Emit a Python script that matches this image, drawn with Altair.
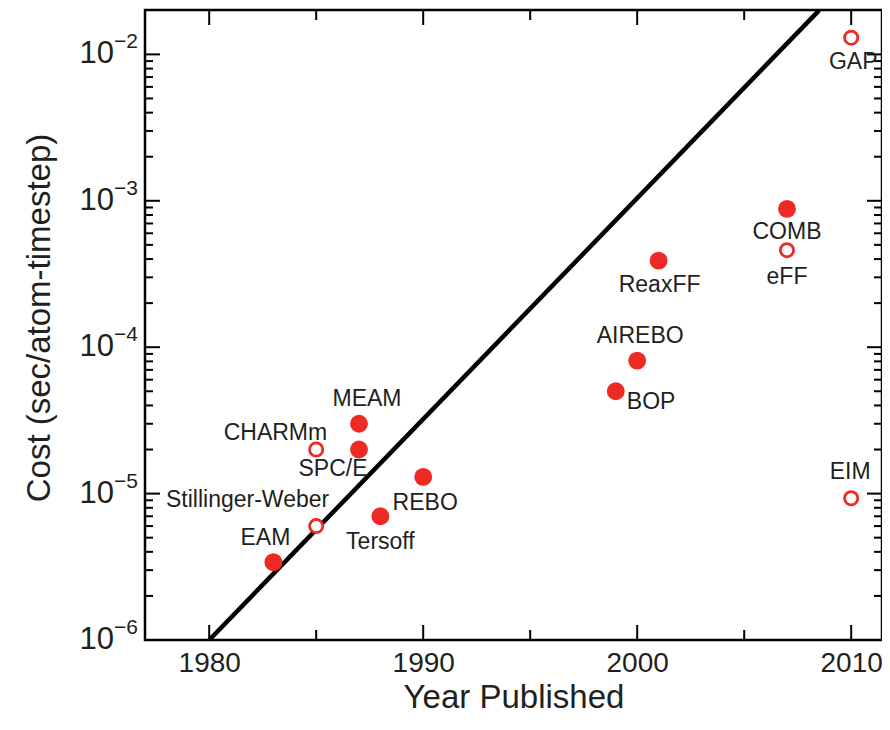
import altair as alt
import pandas as pd

# ---- data ----
names = ["EAM", "Stillinger-Weber", "CHARMm", "SPC/E", "MEAM", "Tersoff", "REBO",
         "BOP", "AIREBO", "ReaxFF", "COMB", "eFF", "GAP", "EIM"]
years = [1983, 1985, 1985, 1987, 1987, 1988, 1990, 1999, 2000, 2001, 2007, 2007, 2010, 2010]
costs = [3.4e-6, 6.0e-6, 2.0e-5, 2.0e-5, 3.0e-5, 7.0e-6, 1.3e-5, 5.0e-5, 8.1e-5, 3.9e-4,
         8.8e-4, 4.6e-4, 1.3e-2, 9.3e-6]
filled = [True, False, False, True, True, True, True, True, True, True, True, False, False, False]

trend_years = [1980, 2008.5]
trend_costs = [1e-6, 2e-2]

x_major = [1980, 1990, 2000, 2010]
x_minor = [1985, 1995, 2005]
y_major = [1e-6, 1e-5, 1e-4, 1e-3, 1e-2]
y_exp = ["\u22126", "\u22125", "\u22124", "\u22123", "\u22122"]
y_minor = [m * d for d in [1e-6, 1e-5, 1e-4, 1e-3] for m in range(2, 10)]

# ---- styles ----
W, H = 737, 630
FONT = "Liberation Sans"
TXT = "#231f20"
RED = "#ee2a24"
label_style = {
    "EAM": (-8, -24, "center"),
    "Stillinger-Weber": (13, -26, "right"),
    "CHARMm": (11, -17, "right"),
    "SPC/E": (-26, 19, "center"),
    "MEAM": (8, -25, "center"),
    "Tersoff": (0, 26, "center"),
    "REBO": (2, 26, "center"),
    "BOP": (11, 11, "left"),
    "AIREBO": (3, -25, "center"),
    "ReaxFF": (1, 24, "center"),
    "COMB": (0, 23, "center"),
    "eFF": (0, 27, "center"),
    "GAP": (2, 24, "center"),
    "EIM": (-1, -26, "center"),
}

pts = pd.DataFrame({"name": names, "year": years, "cost": costs, "filled": filled})
trend = pd.DataFrame({"year": trend_years, "cost": trend_costs})
xmaj = pd.DataFrame({"year": x_major})
xmin = pd.DataFrame({"year": x_minor})
ymaj = pd.DataFrame({"cost": y_major, "base": ["10"] * len(y_major), "exp": y_exp})
ymin = pd.DataFrame({"cost": y_minor})

xscale = alt.Scale(domain=[1977.0, 2011.44], nice=False, zero=False)
yscale = alt.Scale(type="log", domain=[1e-6, 2.01e-2], nice=False)

X = alt.X("year:Q", scale=xscale,
          axis=alt.Axis(values=x_major, format="d", ticks=False, domain=False, grid=False,
                        labelFontSize=28, labelPadding=9, labelColor=TXT, labelFont=FONT,
                        title="Year Published", titleFontSize=33, titleFont=FONT,
                        titleFontWeight="normal", titleColor=TXT, titlePadding=4))
Y = alt.Y("cost:Q", scale=yscale, axis=None)

layers = []

# trend line
layers.append(alt.Chart(trend).mark_line(color="black", strokeWidth=4.5, clip=True)
              .encode(x=X, y=Y))

# ticks (inward) on all four sides
tw = 2
layers.append(alt.Chart(xmaj).mark_rule(color="black", strokeWidth=tw)
              .encode(x=X, y=alt.value(H), y2=alt.value(H - 15)))
layers.append(alt.Chart(xmin).mark_rule(color="black", strokeWidth=tw)
              .encode(x=X, y=alt.value(H), y2=alt.value(H - 10)))
layers.append(alt.Chart(xmaj).mark_rule(color="black", strokeWidth=tw)
              .encode(x=X, y=alt.value(0), y2=alt.value(15)))
layers.append(alt.Chart(xmin).mark_rule(color="black", strokeWidth=tw)
              .encode(x=X, y=alt.value(0), y2=alt.value(10)))
layers.append(alt.Chart(ymaj).mark_rule(color="black", strokeWidth=tw)
              .encode(y=Y, x=alt.value(0), x2=alt.value(15)))
layers.append(alt.Chart(ymin).mark_rule(color="black", strokeWidth=tw)
              .encode(y=Y, x=alt.value(0), x2=alt.value(8)))
layers.append(alt.Chart(ymaj).mark_rule(color="black", strokeWidth=tw)
              .encode(y=Y, x=alt.value(W), x2=alt.value(W - 15)))
layers.append(alt.Chart(ymin).mark_rule(color="black", strokeWidth=tw)
              .encode(y=Y, x=alt.value(W), x2=alt.value(W - 8)))

# y tick labels 10^n
layers.append(alt.Chart(ymaj).mark_text(align="right", baseline="middle", fontSize=31,
                                        font=FONT, color=TXT)
              .encode(y=Y, x=alt.value(-31), text="base:N"))
layers.append(alt.Chart(ymaj).mark_text(align="left", baseline="middle", fontSize=21,
                                        font=FONT, color=TXT, dy=-12)
              .encode(y=Y, x=alt.value(-31), text="exp:N"))

# y title
layers.append(alt.Chart(pd.DataFrame({"t": ["Cost (sec/atom-timestep)"]}))
              .mark_text(angle=270, align="center", baseline="middle", fontSize=33,
                         font=FONT, color=TXT)
              .encode(x=alt.value(-105), y=alt.value(308), text="t:N"))

# points
layers.append(alt.Chart(pts).transform_filter("datum.filled")
              .mark_point(shape="circle", filled=True, size=320, color=RED, opacity=1)
              .encode(x=X, y=Y))
layers.append(alt.Chart(pts).transform_filter("!datum.filled")
              .mark_point(shape="circle", filled=True, size=175, fill="white", stroke=RED,
                          strokeWidth=2.8, opacity=1)
              .encode(x=X, y=Y))

# point labels
for nm, (dx, dy, al) in label_style.items():
    layers.append(alt.Chart(pts).transform_filter(alt.datum.name == nm)
                  .mark_text(align=al, baseline="middle", dx=dx, dy=dy, fontSize=23,
                             font=FONT, color=TXT)
                  .encode(x=X, y=Y, text="name:N"))

chart = alt.layer(*layers).properties(
    width=W, height=H,
    autosize=alt.AutoSizeParams(type="none"),
    padding={"left": 137, "top": 2, "right": 0, "bottom": 76},
    background="white",
).configure_view(stroke="black", strokeWidth=2.5)

chart.save("out.html", embed_options={"renderer": "svg", "actions": False})
